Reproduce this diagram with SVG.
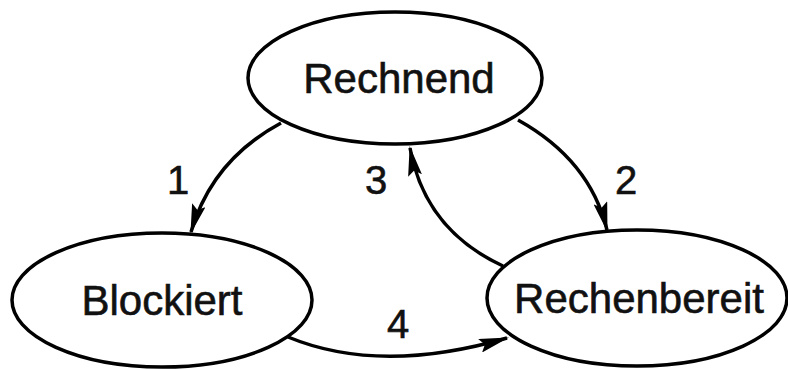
<svg xmlns="http://www.w3.org/2000/svg" width="788" height="370" viewBox="0 0 788 370">
  <style>
    .state { fill: #fff; stroke: #000; stroke-width: 3.5; }
    .label { font-family: "Liberation Sans", Arial, sans-serif; font-size: 42px; fill: #111; stroke: #111; stroke-width: 0.6; text-anchor: middle; }
    .edge { fill: none; stroke: #000; stroke-width: 3.5; }
    .num { font-family: "Liberation Sans", Arial, sans-serif; font-size: 40px; fill: #111; stroke: #111; stroke-width: 0.6; text-anchor: middle; }
  </style>
  <defs>
    <marker id="arrow" viewBox="0 0 30 14" refX="28" refY="7" markerWidth="30" markerHeight="14" markerUnits="userSpaceOnUse" orient="auto">
      <path d="M0,0 L30,7 L0,14 L5,7 Z" fill="#000"/>
    </marker>
  </defs>

  <g id="edges">
    <path id="e1" class="edge" d="M281,123 Q212,160 191,232" marker-end="url(#arrow)"/>
    <path id="e2" class="edge" d="M518,120 Q590,160 607,230" marker-end="url(#arrow)"/>
    <path id="e3" class="edge" d="M503,266 Q425,230 410,148" marker-end="url(#arrow)"/>
    <path id="e4" class="edge" d="M288,337 Q380,375 507,338" marker-end="url(#arrow)"/>
    <text class="num" x="178" y="194">1</text>
    <text class="num" x="626" y="194">2</text>
    <text class="num" x="376" y="194">3</text>
    <text class="num" x="398" y="338">4</text>
  </g>

  <g id="rechnend">
    <ellipse class="state" cx="395" cy="78" rx="147" ry="66"/>
    <text class="label" x="399" y="93">Rechnend</text>
  </g>

  <g id="blockiert">
    <ellipse class="state" cx="162" cy="300" rx="150" ry="67"/>
    <text class="label" x="162" y="315">Blockiert</text>
  </g>

  <g id="rechenbereit">
    <ellipse class="state" cx="637" cy="298" rx="150" ry="68"/>
    <text class="label" x="639" y="313">Rechenbereit</text>
  </g>
</svg>
